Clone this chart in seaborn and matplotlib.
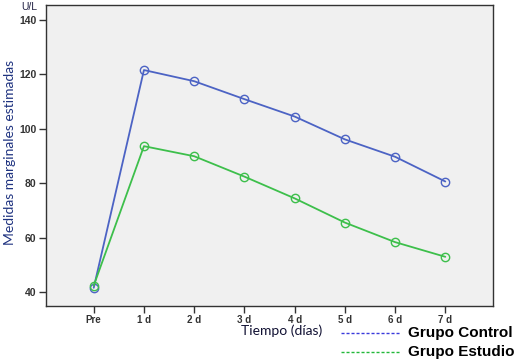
import matplotlib
matplotlib.use("Agg")
import matplotlib.pyplot as plt
import seaborn as sns
import pandas as pd
from matplotlib.lines import Line2D

# Datos
tiempos = ["Pre", "1 d", "2 d", "3 d", "4 d", "5 d", "6 d", "7 d"]
grupo_control = [41.5, 121.6, 117.5, 110.9, 104.5, 96.1, 89.7, 80.6]
grupo_estudio = [42.3, 93.6, 89.9, 82.4, 74.4, 65.5, 58.3, 52.9]
grupos = ["Grupo Control", "Grupo Estudio"]
colores = {"Grupo Control": "#4c63c4", "Grupo Estudio": "#3dbf4b"}
colores_leyenda = {"Grupo Control": "#3a3adc", "Grupo Estudio": "#22b83a"}

filas = []
for grupo, valores in zip(grupos, [grupo_control, grupo_estudio]):
    for i, (t, v) in enumerate(zip(tiempos, valores)):
        filas.append({"pos": i, "tiempo": t, "valor": v, "grupo": grupo})
df = pd.DataFrame(filas)

sns.set_theme(style="ticks")
plt.rcParams["font.family"] = ["Liberation Sans", "DejaVu Sans"]

fig = plt.figure(figsize=(5.21, 3.63), dpi=100, facecolor="white")
ax = fig.add_axes([0.0883, 0.157, 0.858, 0.829])
ax.set_facecolor("#f0f0f0")

for grupo in grupos:
    sns.lineplot(data=df[df["grupo"] == grupo], x="pos", y="valor",
                 color=colores[grupo], marker="o", markersize=6,
                 markerfacecolor="none", markeredgecolor=colores[grupo],
                 markeredgewidth=1, linewidth=1.3, ax=ax, legend=False)

ax.set_xlim(-0.95, 7.95)
ax.set_ylim(34.8, 145.5)
ax.set_xticks(range(len(tiempos)))
ax.set_xticklabels(tiempos, fontsize=7, fontweight="bold", color="#333333")
ax.set_yticks([40, 60, 80, 100, 120, 140])
ax.tick_params(axis="y", labelsize=7.5, colors="#333333", length=5, width=1, pad=2)
ax.tick_params(axis="x", length=5, width=1, colors="#333333", pad=1.5)
for lbl in ax.get_yticklabels():
    lbl.set_fontweight("bold")

for s in ax.spines.values():
    s.set_visible(True)
    s.set_color("#333333")
    s.set_linewidth(1)

ax.set_ylabel("Medidas marginales estimadas", fontsize=10, color="#1f3380",
              family=["Lato", "DejaVu Sans"])
ax.yaxis.set_label_coords(-0.067, 0.51)
ax.set_xlabel("Tiempo (días)", fontsize=10, color="#111133",
              family=["Lato", "DejaVu Sans"])
ax.xaxis.set_label_coords(0.526, -0.062)
ax.xaxis.label.set_va("top")
fig.text(29 / 521, 1 - 2 / 363, "U/L", fontsize=7.5, color="#222244",
         ha="center", va="top")

# leyenda dibujada a mano, fuera del area del grafico
for k, grupo in enumerate(grupos):
    yy = 1 - (332.7 + 19 * k) / 363
    fig.add_artist(Line2D([341 / 521, 400 / 521], [yy, yy],
                          transform=fig.transFigure, color=colores_leyenda[grupo],
                          linestyle=(0, (2.2, 1.4)), linewidth=1))
    fig.text(408 / 521, yy, grupo, fontsize=11, fontweight="bold",
             color="black", ha="left", va="center")

fig.savefig("out.png", dpi=100)
